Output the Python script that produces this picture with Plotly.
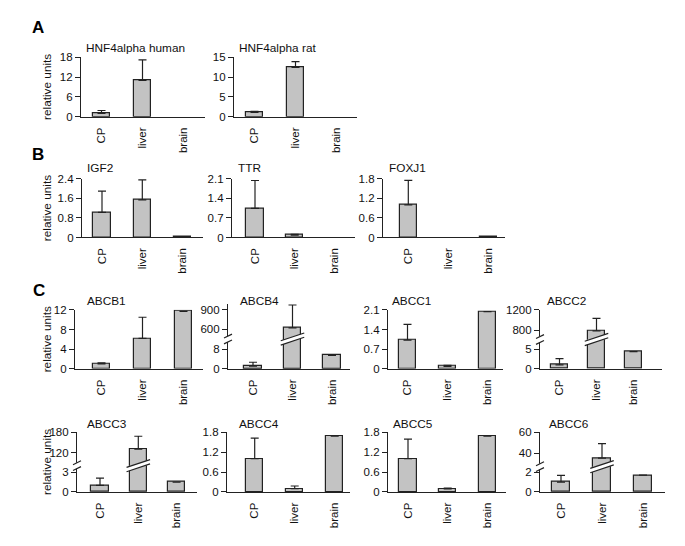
import plotly.graph_objects as go

W, H = 685, 546
categories = ["CP", "liver", "brain"]

# ---- data (relative units); None = not detected ----
hnf4a_human = [1.0, 11.0, None]
hnf4a_human_err = [0.9, 6.2, None]
hnf4a_rat = [1.1, 12.4, None]
hnf4a_rat_err = [0.25, 1.5, None]
igf2 = [1.03, 1.54, 0.03]
igf2_err = [0.87, 0.82, None]
ttr = [1.04, 0.08, None]
ttr_err = [1.0, 0.03, None]
foxj1 = [1.0, None, 0.02]
foxj1_err = [0.75, None, None]
abcb1 = [1.0, 6.2, 11.7]
abcb1_err = [0.2, 4.3, None]
abcb4 = [1.1, 625, 5.5]
abcb4_err = [1.6, 350, None]
abcc1 = [1.02, 0.09, 2.04]
abcc1_err = [0.56, 0.03, None]
abcc2 = [1.0, 790, 4.4]
abcc2_err = [1.6, 246, None]
abcc3 = [1.0, 130, 1.5]
abcc3_err = [1.1, 38, None]
abcc4 = [1.0, 0.1, 1.68]
abcc4_err = [0.62, 0.08, None]
abcc5 = [1.0, 0.09, 1.68]
abcc5_err = [0.59, 0.03, None]
abcc6 = [1.0, 35.3, 1.7]
abcc6_err = [0.68, 14, None]

# ---- layout of panels (pixel geometry) ----
RA = (52.3, 113.3)
RB = (176.7, 236.7)
RC1 = (310.7, 371.0)
RC2 = (435.7, 496.9)

panels = [
    dict(t="HNF4alpha human", v=hnf4a_human, e=hnf4a_human_err, g=(81, 205, RA, 101.5, 41), ticks=[0, 6, 12, 18], tx=84, ty=43),
    dict(t="HNF4alpha rat", v=hnf4a_rat, e=hnf4a_rat_err, g=(234, 357, RA, 254.5, 41), ticks=[0, 5, 10, 15], tx=237, ty=43),
    dict(t="IGF2", v=igf2, e=igf2_err, g=(82, 203, RB, 102, 40.3), ticks=[0, 0.8, 1.6, 2.4], tx=85, ty=166),
    dict(t="TTR", v=ttr, e=ttr_err, g=(232, 355, RB, 255, 39.7), ticks=[0, 0.7, 1.4, 2.1], tx=236, ty=166),
    dict(t="FOXJ1", v=foxj1, e=foxj1_err, g=(383, 505, RB, 408.3, 40), ticks=[0, 0.6, 1.2, 1.8], tx=387, ty=166),
    dict(t="ABCB1", v=abcb1, e=abcb1_err, g=(75, 203, RC1, 101.5, 41), ticks=[0, 4, 8, 12], tx=85, ty=302),
    dict(t="ABCB4", v=abcb4, e=abcb4_err, g=(228, 350, RC1, 253, 39.5), tx=238, ty=302,
         brk=dict(lo=[0, 8], lo_px=351, yb=340.5, up=[600, 900], up_px=[330.7, 310.7], top_px=304.5)),
    dict(t="ABCC1", v=abcc1, e=abcc1_err, g=(388, 503, RC1, 407.5, 40), ticks=[0, 0.7, 1.4, 2.1], tx=390, ty=302),
    dict(t="ABCC2", v=abcc2, e=abcc2_err, g=(540, 662, RC1, 559.5, 37), tx=545, ty=302,
         brk=dict(lo=[0, 5], lo_px=351, yb=341, up=[800, 1200], up_px=[331.7, 310.7], top_px=310.7)),
    dict(t="ABCC3", v=abcc3, e=abcc3_err, g=(77, 197, RC2, 100, 38.3), tx=85, ty=427,
         brk=dict(lo=[0, 3], lo_px=476.7, yb=470, up=[120, 180], up_px=[456.7, 435.7], top_px=435.7)),
    dict(t="ABCC4", v=abcc4, e=abcc4_err, g=(227, 350, RC2, 254.7, 40), ticks=[0, 0.6, 1.2, 1.8], tx=237, ty=427),
    dict(t="ABCC5", v=abcc5, e=abcc5_err, g=(388, 506, RC2, 408, 39.7), ticks=[0, 0.6, 1.2, 1.8], tx=391, ty=427),
    dict(t="ABCC6", v=abcc6, e=abcc6_err, g=(540, 665, RC2, 561, 41), tx=547, ty=427,
         brk=dict(lo=[0, 2], lo_px=476.7, yb=471, up=[40, 60], up_px=[457.3, 436.0], top_px=436.0)),
]

LC = "#222222"
LW = 1.2
FILL = "#c3c3c3"
FONT = "Liberation Sans, Arial, sans-serif"
TF = 11.5
LF = 11.8


def xp(px):
    return px / W


def yp(py):
    return 1 - py / H


fig = go.Figure()
layout = {}
shapes = []
annotations = []
xn = 0
yn = 0


def axname(kind, n):
    return kind if n == 1 else f"{kind}{n}"


def yaxis_dict(domain, rng, ticks, xid):
    return dict(domain=domain, range=rng, anchor=xid, tickvals=ticks, showline=True,
                linecolor=LC, linewidth=LW, ticks="outside", ticklen=5, tickwidth=LW,
                tickcolor=LC, showgrid=False, zeroline=False, tickfont=dict(size=TF, color="#111"))


def bar(vals, errs, bw, xid, yid):
    return go.Bar(x=categories, y=vals, width=bw,
                  marker=dict(color=FILL, line=dict(color=LC, width=LW)),
                  error_y=dict(type="data", array=errs, arrayminus=[0, 0, 0], symmetric=False,
                               color=LC, thickness=LW, width=4),
                  showlegend=False, hoverinfo="skip", xaxis=xid, yaxis=yid)


for p in panels:
    left, right, (top, bottom), cp, step = p["g"]
    xn += 1
    xid = axname("x", xn)
    bw = 17.5 / step
    yn += 1
    ylo = axname("y", yn)
    layout[axname("xaxis", xn)] = dict(
        domain=[xp(left), xp(right)], range=[(left - cp) / step, (right - cp) / step],
        anchor=ylo, type="category", categoryorder="array", categoryarray=categories,
        showline=True, linecolor=LC, linewidth=LW, ticks="", tickangle=-90,
        ticklabelstandoff=5, showgrid=False, zeroline=False,
        tickfont=dict(size=TF, color="#111"))
    b = p.get("brk")
    if b is None:
        layout[axname("yaxis", yn)] = yaxis_dict([yp(bottom), yp(top)], [0, p["ticks"][-1]], p["ticks"], xid)
        fig.add_trace(bar(p["v"], p["e"], bw, xid, ylo))
    else:
        yb = b["yb"]
        ppu_lo = (bottom - b["lo_px"]) / b["lo"][1]
        lo_max = (bottom - yb) / ppu_lo
        ppu_up = (b["up_px"][0] - b["up_px"][1]) / (b["up"][1] - b["up"][0])
        up_min = b["up"][0] - (yb - b["up_px"][0]) / ppu_up
        up_max = b["up"][1] + (b["up_px"][1] - b["top_px"]) / ppu_up
        layout[axname("yaxis", yn)] = yaxis_dict([yp(bottom), yp(yb)], [0, lo_max], b["lo"], xid)
        fig.add_trace(bar(p["v"], p["e"], bw, xid, ylo))
        yn += 1
        yup = axname("y", yn)
        layout[axname("yaxis", yn)] = yaxis_dict([yp(yb), yp(b["top_px"])], [up_min, up_max], b["up"], xid)
        fig.add_trace(bar(p["v"], p["e"], bw, xid, yup))
        # axis break marks
        shapes.append(dict(type="rect", xref="paper", yref="paper", x0=xp(left - 5), x1=xp(left + 5),
                           y0=yp(yb + 3), y1=yp(yb - 3), fillcolor="white", line=dict(width=0)))
        for off in (-3, 3):
            shapes.append(dict(type="line", xref="paper", yref="paper", x0=xp(left - 4), x1=xp(left + 4),
                               y0=yp(yb + off + 2), y1=yp(yb + off - 2), line=dict(color=LC, width=LW)))
        # bar break on the liver bar
        xi = categories.index("liver")
        ext = 3 / step
        xl, xr = xi - bw / 2 - ext, xi + bw / 2 + ext
        s, hh = 4.0, 2.2
        path = (f"M {xl},{yp(yb + s + hh)} L {xr},{yp(yb - s + hh)} "
                f"L {xr},{yp(yb - s - hh)} L {xl},{yp(yb + s - hh)} Z")
        shapes.append(dict(type="path", xref=xid, yref="paper", path=path, fillcolor="white", line=dict(width=0)))
        for d in (hh, -hh):
            shapes.append(dict(type="line", xref=xid, yref="paper", x0=xl, x1=xr,
                               y0=yp(yb + s + d), y1=yp(yb - s + d), line=dict(color=LC, width=LW)))
    annotations.append(dict(text=p["t"], xref="paper", yref="paper", x=xp(p["tx"]), y=yp(p["ty"]),
                            xanchor="left", yanchor="middle", showarrow=False,
                            font=dict(size=LF, color="#111")))

for letter, lx, ly in (("A", 30, 22), ("B", 30, 152), ("C", 31, 291)):
    annotations.append(dict(text=f"<b>{letter}</b>", xref="paper", yref="paper", x=xp(lx), y=yp(ly),
                            xanchor="left", yanchor="middle", showarrow=False,
                            font=dict(size=17, color="#000")))

for (t0, t1) in (RA, RB, RC1, RC2):
    annotations.append(dict(text="relative units", xref="paper", yref="paper", x=xp(47), y=yp((t0 + t1) / 2),
                            xanchor="center", yanchor="middle", textangle=-90, showarrow=False,
                            font=dict(size=LF, color="#111")))

fig.update_layout(width=W, height=H, margin=dict(l=0, r=0, t=0, b=0), autosize=False,
                  paper_bgcolor="white", plot_bgcolor="white", font=dict(family=FONT, color="#111"),
                  shapes=shapes, annotations=annotations, bargap=0, **layout)

PAGE_CSS = ("var st=document.createElement('style');"
            "st.innerHTML='html,body{margin:0;padding:0;overflow:hidden;width:685px;height:546px;}"
            ".main-svg{display:block}';document.head.appendChild(st);")
fig.write_html("out.html", config={"displayModeBar": False}, post_script=PAGE_CSS)
